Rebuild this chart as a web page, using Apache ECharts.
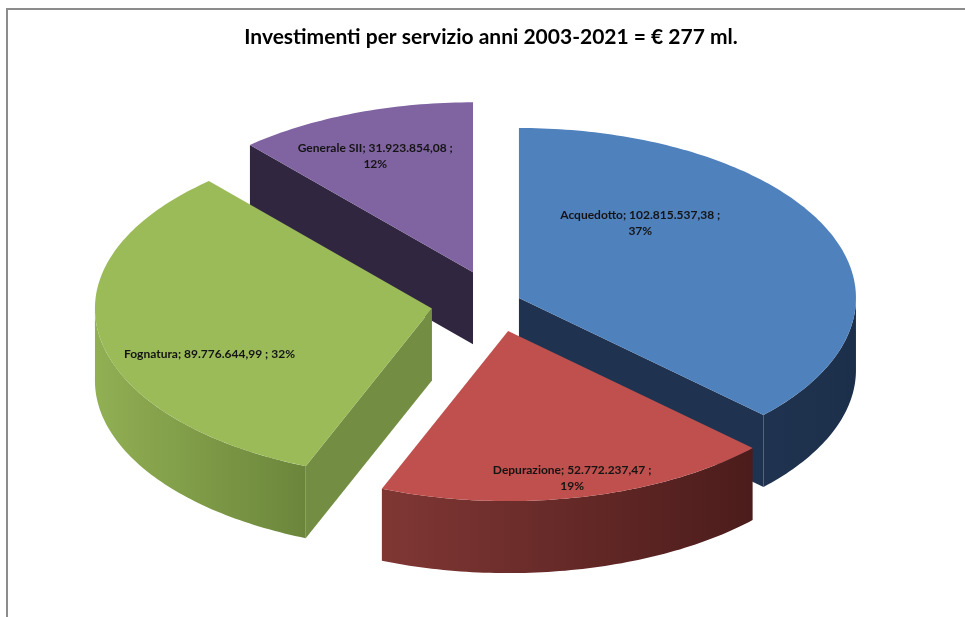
<!DOCTYPE html>
<html>
<head>
<meta charset="utf-8">
<script src="https://cdn.jsdelivr.net/npm/echarts@6/dist/echarts.min.js"></script>
<style>
  html, body { margin: 0; padding: 0; background: #ffffff; }
  #chart { width: 965px; height: 617px; }
</style>
</head>
<body>
<div id="chart"></div>
<script>
// Investments per service, 2003-2021 (euro)
const categories = ['Acquedotto', 'Depurazione', 'Fognatura', 'Generale SII'];
const amounts = [102815537.38, 52772237.47, 89776644.99, 31923854.08];
const titleText = 'Investimenti per servizio anni 2003-2021 = € 277 ml.';

// Look of the 3D pie
const topColors = ['#4F81BD', '#C0504D', '#9BBB59', '#8064A2'];
const wallColors = [
  ['#1F3350', '#1C2F4A'],
  ['#803734', '#4B1C1B'],
  ['#91AF53', '#6B863B'],
  ['#3A2E4C', '#2E2440']
];
const cutColors = ['#1F3350', '#6A2A28', '#738E42', '#302640'];
const explode = [25, 57, 65, 65];          // radial offset of each slice
const labelAt = [[0.36, -0.44], [0.19, 0.865], [-0.66, 0.27], [-0.29, -0.685]];
const labelWrap = [true, true, false, true];

const CX = 496, CY = 303, RX = 337, RY = 170, DEPTH = 72;

function fmtIt(v) {
  const parts = v.toFixed(2).split('.');
  return parts[0].replace(/\B(?=(\d{3})+(?!\d))/g, '.') + ',' + parts[1];
}

const total = amounts.reduce((s, v) => s + v, 0);
const rad = d => d * Math.PI / 180;

// slice geometry (angles clockwise from 12 o'clock)
let acc = 0;
const slices = amounts.map((v, i) => {
  const a = acc / total * 360;
  acc += v;
  const b = acc / total * 360;
  const m = (a + b) / 2;
  const tip = [CX + explode[i] * Math.sin(rad(m)), CY - explode[i] * (RY / RX) * Math.cos(rad(m))];
  return { a, b, m, tip };
});
const depthOrder = slices.map((s, i) => i).sort((p, q) => slices[p].tip[1] - slices[q].tip[1]);
const rankOf = [];
depthOrder.forEach((idx, r) => { rankOf[idx] = r; });

function rim(tip, ang, dy) {
  return [tip[0] + RX * Math.sin(rad(ang)), tip[1] - RY * Math.cos(rad(ang)) + (dy || 0)];
}
function arc(tip, a, b, dy) {
  const pts = [];
  const n = Math.max(2, Math.ceil(Math.abs(b - a)));
  for (let k = 0; k <= n; k++) pts.push(rim(tip, a + (b - a) * k / n, dy));
  return pts;
}

function renderItem(params, api) {
  const i = params.dataIndex;
  const s = slices[i];
  const tip = s.tip;
  const base = 10 + rankOf[i] * 10;
  const children = [];

  // radial cut faces that face the viewer
  const cut = ang => {
    const p = rim(tip, ang, 0);
    return [tip, p, [p[0], p[1] + DEPTH], [tip[0], tip[1] + DEPTH]];
  };
  if (Math.sin(rad(s.a)) < -1e-6) {
    children.push({ type: 'polygon', z2: base, shape: { points: cut(s.a) }, style: { fill: cutColors[i] } });
  }
  if (Math.sin(rad(s.b)) > 1e-6) {
    children.push({ type: 'polygon', z2: base, shape: { points: cut(s.b) }, style: { fill: cutColors[i] } });
  }

  // front part of the outer wall
  const lo = Math.max(s.a, 90), hi = Math.min(s.b, 270);
  if (lo < hi) {
    const pts = arc(tip, lo, hi, 0).concat(arc(tip, hi, lo, DEPTH));
    children.push({
      type: 'polygon', z2: base + 1,
      shape: { points: pts },
      style: {
        fill: {
          type: 'linear', x: 0, y: 0, x2: 1, y2: 0,
          colorStops: [{ offset: 0, color: wallColors[i][0] }, { offset: 1, color: wallColors[i][1] }]
        }
      }
    });
  }

  // top face
  children.push({
    type: 'polygon', z2: base + 2,
    shape: { points: [tip].concat(arc(tip, s.a, s.b, 0)) },
    style: { fill: topColors[i] }
  });

  // data label
  const pct = Math.round(api.value(0) / total * 100);
  const txt = categories[i] + '; ' + fmtIt(api.value(0)) + ' ;' + (labelWrap[i] ? '\n' : ' ') + pct + '%';
  children.push({
    type: 'text', z2: 200,
    style: {
      text: txt,
      x: tip[0] + labelAt[i][0] * RX,
      y: tip[1] + labelAt[i][1] * RY,
      align: 'center', verticalAlign: 'middle',
      fill: '#141414',
      font: 'bold 12px Lato, "Open Sans", sans-serif',
      lineHeight: 16
    }
  });

  return { type: 'group', children };
}

const chart = echarts.init(document.getElementById('chart'), null, { renderer: 'canvas' });
chart.setOption({
  animation: false,
  backgroundColor: '#ffffff',
  graphic: [
    {
      type: 'rect', z: -1,
      shape: { x: 7, y: 9, width: 1000, height: 700 },
      style: { fill: 'none', stroke: '#8c8c8c', lineWidth: 2 }
    },
    {
      type: 'text', z: 10,
      x: 491, y: 37,
      style: {
        text: titleText,
        align: 'center', verticalAlign: 'middle',
        fill: '#000000',
        font: 'bold 21px Lato, "Open Sans", sans-serif'
      }
    }
  ],
  series: [{
    type: 'custom',
    coordinateSystem: 'none',
    renderItem: renderItem,
    data: amounts.map(v => [v])
  }]
});
</script>
</body>
</html>
